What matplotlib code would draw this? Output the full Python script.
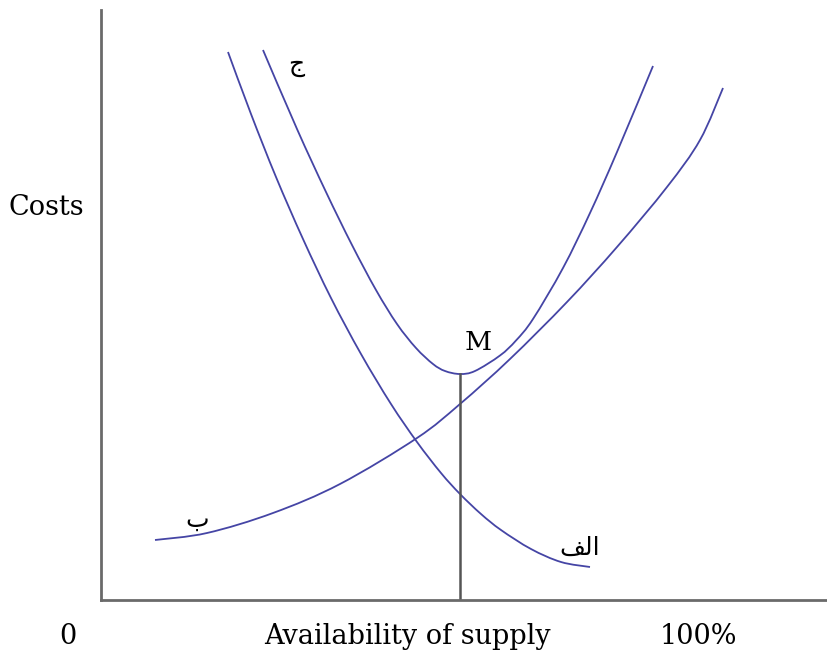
import matplotlib
matplotlib.use("Agg")
from matplotlib import pyplot as plt
from matplotlib.path import Path
from matplotlib.patches import PathPatch
import numpy as np

# curves (x: supply, y: cost), axis origin at bottom-left corner
alef_x = [127, 150, 175, 202, 230, 260, 290, 316, 340, 359, 380, 400, 430, 460, 489]
alef_y = [548, 486, 423, 361, 302, 246, 196, 158, 127, 106, 86, 70, 51, 38, 33]

be_x = [54, 106, 172, 239, 316, 359, 409, 466, 516, 566, 599, 622]
be_y = [60, 67, 87, 116, 162, 196, 241, 298, 353, 413, 460, 512]

jim_x = [162, 196, 225, 251, 275, 296, 315, 332, 344, 359, 374, 399, 415, 432, 462, 489, 516, 552]
jim_y = [550, 471, 408, 355, 310, 276, 252, 236, 229, 226, 229, 244.5, 259.5, 281, 332, 387, 448, 534]

optimum_x = 359
optimum_y = 226

line_color = "#4545a5"
axis_color = "#6a6a6a"
serif = "DejaVu Serif"


def smooth_curve(xs, ys):
    # catmull-rom through the read points, drawn as bezier segments
    p = np.column_stack([xs, ys]).astype(float)
    p = np.vstack([p[0], p, p[-1]])
    verts = [p[1]]
    codes = [Path.MOVETO]
    for i in range(1, len(p) - 2):
        c1 = p[i] + (p[i + 1] - p[i - 1]) / 6
        c2 = p[i + 1] - (p[i + 2] - p[i]) / 6
        verts += [c1, c2, p[i + 1]]
        codes += [Path.CURVE4] * 3
    return Path(verts, codes)


fig = plt.figure(figsize=(8.27, 6.55), dpi=100)
ax = fig.add_axes([101 / 827, 55 / 655, 726 / 827, 590 / 655])

for xs, ys in [(alef_x, alef_y), (be_x, be_y), (jim_x, jim_y)]:
    ax.add_patch(PathPatch(smooth_curve(xs, ys), fill=False, edgecolor=line_color, lw=1.3))
ax.plot([optimum_x, optimum_x], [0, optimum_y], color="#555555", lw=1.8)

ax.set_xlim(0, 726)
ax.set_ylim(0, 590)
ax.set_xticks([])
ax.set_yticks([])
for s in ["top", "right"]:
    ax.spines[s].set_visible(False)
for s in ["left", "bottom"]:
    ax.spines[s].set_color(axis_color)
    ax.spines[s].set_linewidth(2)

# labels
ax.text(optimum_x + 18, optimum_y + 32, "M", fontsize=19, family=serif, ha="center", va="center")
ax.text(195, 535, "\uFE9D", fontsize=18, family="DejaVu Sans", ha="center", va="center")
ax.text(96, 80, "\uFE8F", fontsize=18, family="DejaVu Sans", ha="center", va="center")
ax.text(479, 52, "\uFED2\uFEDF\uFE8D", fontsize=18, family="DejaVu Sans", ha="center", va="center")

fig.text(46 / 827, 1 - 208 / 655, "Costs", fontsize=19.5, family=serif, ha="center", va="center")
fig.text(68 / 827, 1 - 637 / 655, "0", fontsize=19.5, family=serif, ha="center", va="center")
fig.text(407 / 827, 1 - 637 / 655, "Availability of supply", fontsize=19.5, family=serif, ha="center", va="center")
fig.text(698 / 827, 1 - 637 / 655, "100%", fontsize=19.5, family=serif, ha="center", va="center")

fig.savefig("out.png", dpi=100)
